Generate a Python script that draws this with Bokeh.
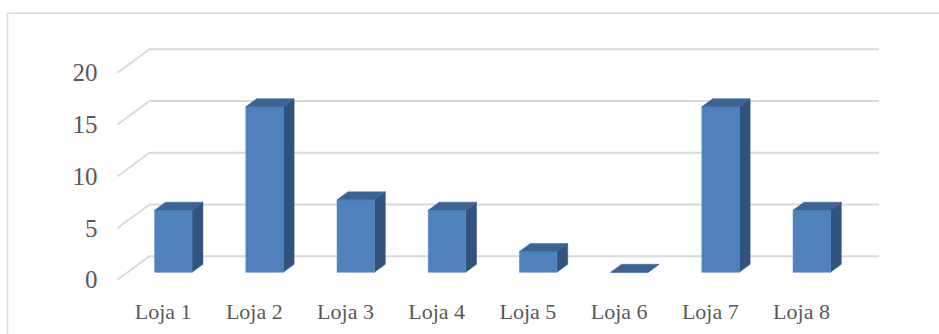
from bokeh.plotting import figure
from bokeh.models import Range1d, FixedTicker
from bokeh.embed import file_html
from bokeh.resources import INLINE

# Data
stores = ["Loja 1", "Loja 2", "Loja 3", "Loja 4", "Loja 5", "Loja 6", "Loja 7", "Loja 8"]
sales = [6, 16, 7, 6, 2, 0, 16, 6]
y_ticks = [0, 5, 10, 15, 20]

# Page geometry (pixels)
W, H = 939, 334
FRAME_L, FRAME_R, FRAME_T, FRAME_B = 108, 890, 40, 286
X0_PX = 117.0        # front-left corner of the floor
CAT_PX = 91.2        # width of one category slot
Y0_PX = 279.3        # front edge of the floor (value 0)
UNIT_PX = 10.35      # pixels per unit of value
DEPTH_X_PX, DEPTH_Y_PX = 32.0, 23.5   # oblique depth of the chart box

# depth of the box expressed in data units
DX = DEPTH_X_PX / CAT_PX
DY = DEPTH_Y_PX / UNIT_PX
BAR_OFFSET = 0.32    # fraction of depth where bar fronts sit
BAR_DEPTH = 0.34     # fraction of depth taken by a bar
BAR_HALF = 0.205     # half bar width in category units

FRONT = "#4F81BD"
TOP = "#3B6396"
SIDE = "#31537F"
GRID = "#D9D9D9"
TEXT = "#595959"
FONT = "Liberation Serif"

x_range = Range1d((FRAME_L - X0_PX) / CAT_PX, (FRAME_R - X0_PX) / CAT_PX)
y_range = Range1d(-(FRAME_B - Y0_PX) / UNIT_PX, (Y0_PX - FRAME_T) / UNIT_PX)

p = figure(width=W, height=H, x_range=x_range, y_range=y_range,
           output_backend="svg", toolbar_location=None,
           min_border_left=FRAME_L, min_border_right=W - FRAME_R,
           min_border_top=FRAME_T, min_border_bottom=H - FRAME_B)
p.outline_line_color = None
p.background_fill_color = "white"
p.border_fill_color = "white"
p.xgrid.visible = False
p.ygrid.visible = False

n = len(stores)

# 3D gridlines: short diagonal on the left wall, then along the back wall
grid_xs = [[0.0, DX, n + DX] for _ in y_ticks]
grid_ys = [[v, v + DY, v + DY] for v in y_ticks]
p.multi_line(grid_xs, grid_ys, line_color=GRID, line_width=2)

# Bars: front face, top face and right side face
fx = BAR_OFFSET * DX
fy = BAR_OFFSET * DY
bx = BAR_DEPTH * DX
by = BAR_DEPTH * DY
lefts = [i + 0.5 + fx - BAR_HALF for i in range(n)]
rights = [i + 0.5 + fx + BAR_HALF for i in range(n)]
bottoms = [fy for _ in sales]
tops = [v + fy for v in sales]

side_xs = [[r, r, r + bx, r + bx] for r in rights]
side_ys = [[fy, t, t + by, fy + by] for t in tops]
top_xs = [[l, r, r + bx, l + bx] for l, r in zip(lefts, rights)]
top_ys = [[t, t, t + by, t + by] for t in tops]

p.patches(side_xs, side_ys, fill_color=SIDE, line_color=SIDE, line_width=0.5)
p.quad(left=lefts, right=rights, bottom=bottoms, top=tops,
       fill_color=FRONT, line_color="#5B8CC6", line_width=0.6)
p.patches(top_xs, top_ys, fill_color=TOP, line_color=TOP, line_width=0.5)

# Axes
p.yaxis.ticker = FixedTicker(ticks=y_ticks)
p.yaxis.axis_line_color = None
p.yaxis.major_tick_line_color = None
p.yaxis.minor_tick_line_color = None
p.yaxis.major_tick_out = 0
p.yaxis.major_label_standoff = 11
p.yaxis.major_label_text_font = FONT
p.yaxis.major_label_text_font_size = "25px"
p.yaxis.major_label_text_color = TEXT

centers = [i + 0.5 for i in range(n)]
p.xaxis.ticker = FixedTicker(ticks=centers)
p.xaxis.major_label_overrides = {c: s for c, s in zip(centers, stores)}
p.xaxis.axis_line_color = None
p.xaxis.major_tick_line_color = None
p.xaxis.minor_tick_line_color = None
p.xaxis.major_tick_out = 0
p.xaxis.major_label_standoff = 12
p.xaxis.major_label_text_font = FONT
p.xaxis.major_label_text_font_size = "22px"
p.xaxis.major_label_text_color = TEXT

# Chart area border (left and top edges)
bx0 = (7 - X0_PX) / CAT_PX
bx1 = (W + 10 - X0_PX) / CAT_PX
by0 = (Y0_PX - 12.7) / UNIT_PX
by1 = (Y0_PX - (H + 10)) / UNIT_PX
p.line([bx0, bx0, bx1], [by1, by0, by0], line_color=GRID, line_width=1.5,
       level="overlay")

open("out.html", "w").write(file_html(p, INLINE))
